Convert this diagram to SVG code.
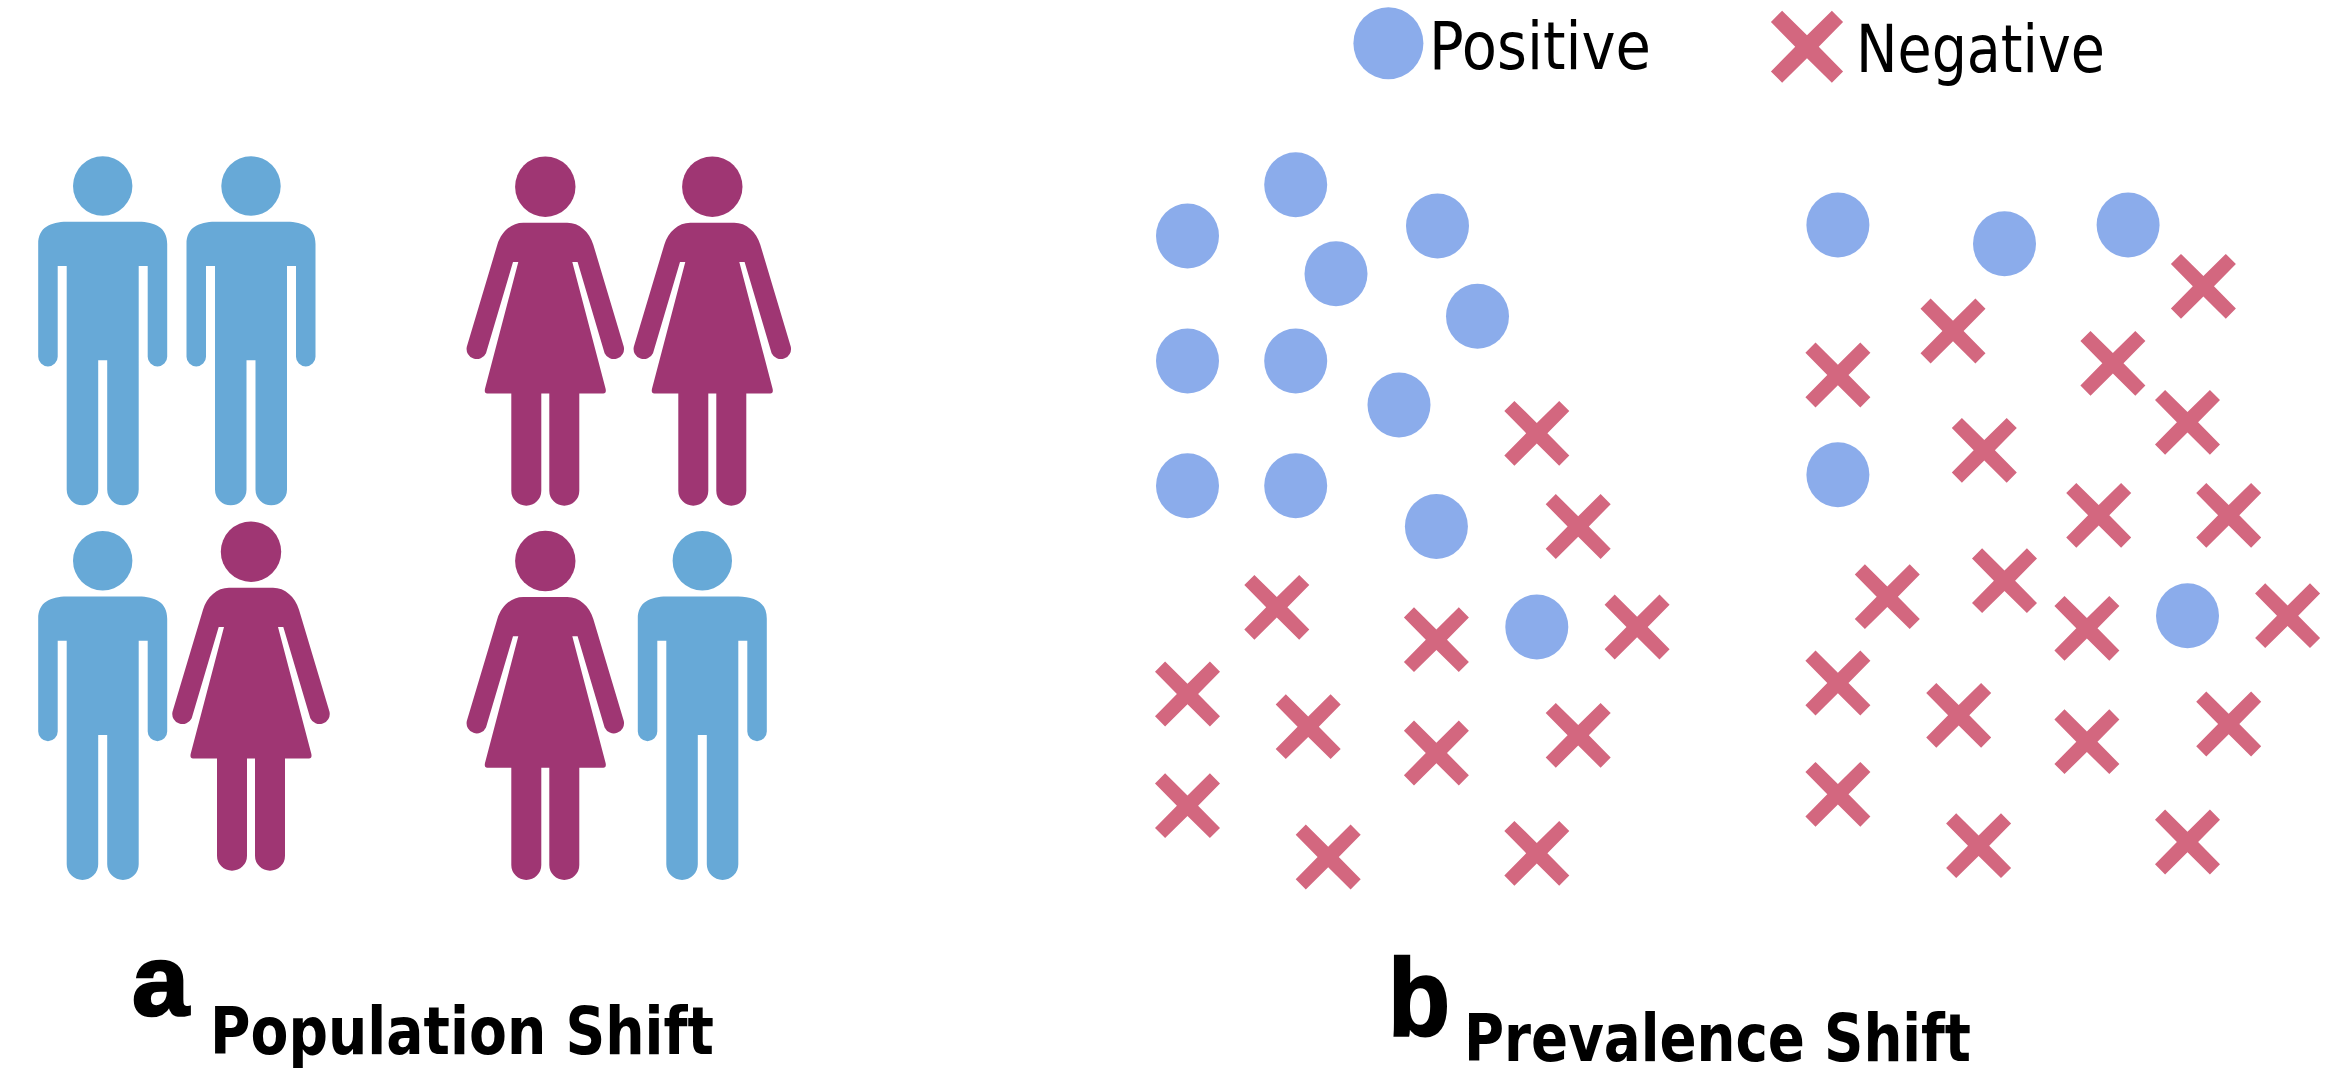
<svg xmlns="http://www.w3.org/2000/svg" xmlns:xlink="http://www.w3.org/1999/xlink" width="2337" height="1076" viewBox="0 0 2337 1076">
<style>
.man{fill:#67a9d7}
.woman{fill:#9f3673}
.pos{fill:#8baceb}
.neg{fill:#d3677f}
.legend{font-family:"DejaVu Sans","Liberation Sans",sans-serif;font-size:66px;fill:#000}
.big{font-family:"Liberation Sans",sans-serif;font-weight:700;fill:#000;stroke:#000;stroke-width:2.5px}
.title{font-family:"DejaVu Sans","Liberation Sans",sans-serif;font-weight:700;font-size:65px;fill:#000}
</style>
<defs>
<g id="man"><circle cx="0" cy="0" r="29.7"/><path d="M-36,35.7H36C52,36 64.5,41 64.5,58V170.7A9.75,9.75 0 0 1 45,170.7V80H36V303.5A15.75,15.75 0 0 1 4.5,303.5V174.3H-4.5V303.5A15.75,15.75 0 0 1 -36,303.5V80H-45V170.7A9.75,9.75 0 0 1 -64.5,170.7V58C-64.5,41 -52,36 -36,35.7Z"/></g>
<g id="woman"><circle cx="0" cy="0" r="30.2"/><path d="M-22,36H22C34,36 44,45 48,58L78.5,160A10.2,10.2 0 0 1 59.3,166.5L32.3,75.3H27L60.3,202Q61.3,206.7 58,206.7H34V304A15,15 0 0 1 4,304V206.7H-4V304A15,15 0 0 1 -34,304V206.7H-58Q-61.3,206.7 -60.3,202L-27,75.3H-32.3L-59.3,166.5A10.2,10.2 0 0 1 -78.5,160L-48,58C-44,45 -34,36 -22,36Z"/></g>
<ellipse id="o" cx="0" cy="0" rx="31.5" ry="32.5"/>
<polygon id="x" points="0,-10.3 22.4,-32.4 32.5,-22.3 10.6,0 32.5,22.3 22.4,32.4 0,10.3 -22.4,32.4 -32.5,22.3 -10.6,0 -32.5,-22.3 -22.4,-32.4"/>
</defs>
<rect width="2337" height="1076" fill="#fff"/>
<g id="population">
<use id="person-1" class="man" href="#man" x="102.7" y="186"/>
<use id="person-2" class="man" href="#man" x="251" y="186"/>
<use id="person-3" class="woman" href="#woman" x="545.3" y="186.7"/>
<use id="person-4" class="woman" href="#woman" x="712.3" y="186.7"/>
<use id="person-5" class="man" href="#man" x="102.7" y="560.7"/>
<use id="person-6" class="woman" href="#woman" x="251" y="551.7"/>
<use id="person-7" class="woman" href="#woman" x="545.3" y="561"/>
<use id="person-8" class="man" href="#man" x="702.3" y="560.7"/>
</g>
<g id="scatter-left-positive" class="pos">
<use href="#o" x="1187.5" y="236"/><use href="#o" x="1295.7" y="184.7"/><use href="#o" x="1437.5" y="226"/><use href="#o" x="1336" y="273.7"/><use href="#o" x="1477.5" y="316.3"/><use href="#o" x="1187.5" y="361"/><use href="#o" x="1295.7" y="361"/><use href="#o" x="1399" y="405"/><use href="#o" x="1187.5" y="485.7"/><use href="#o" x="1295.7" y="485.7"/><use href="#o" x="1436.4" y="526.5"/><use href="#o" x="1536.8" y="627"/>
</g>
<g id="scatter-left-negative" class="neg">
<use href="#x" x="1536.8" y="433.3"/><use href="#x" x="1578.2" y="526.5"/><use href="#x" x="1276.8" y="607.3"/><use href="#x" x="1436.4" y="639.7"/><use href="#x" x="1637.1" y="627"/><use href="#x" x="1187.5" y="694"/><use href="#x" x="1308.2" y="726.7"/><use href="#x" x="1436.4" y="753"/><use href="#x" x="1578.2" y="735.3"/><use href="#x" x="1187.5" y="805.7"/><use href="#x" x="1328.2" y="857"/><use href="#x" x="1536.8" y="853.3"/>
</g>
<g id="scatter-right-positive" class="pos">
<use href="#o" x="1837.9" y="225"/><use href="#o" x="2004.5" y="243.7"/><use href="#o" x="2128.1" y="225"/><use href="#o" x="1837.9" y="474.7"/><use href="#o" x="2187.5" y="615.7"/>
</g>
<g id="scatter-right-negative" class="neg">
<use href="#x" x="2203.4" y="286.3"/><use href="#x" x="1953" y="331"/><use href="#x" x="1837.9" y="375"/><use href="#x" x="2112.9" y="363.3"/><use href="#x" x="2187.5" y="422.3"/><use href="#x" x="1984.3" y="450.3"/><use href="#x" x="2098.7" y="515.3"/><use href="#x" x="2228.7" y="515.3"/><use href="#x" x="1887.3" y="596.7"/><use href="#x" x="2004.5" y="580.7"/><use href="#x" x="2086.9" y="628.3"/><use href="#x" x="2287.6" y="615.7"/><use href="#x" x="1837.9" y="683"/><use href="#x" x="1958.7" y="715.3"/><use href="#x" x="2086.9" y="741.7"/><use href="#x" x="2228.7" y="724"/><use href="#x" x="1837.9" y="794.3"/><use href="#x" x="1978.6" y="845.7"/><use href="#x" x="2187.5" y="842"/>
</g>
<g id="legend">
<ellipse class="pos" cx="1388.4" cy="43.3" rx="35" ry="36"/>
<text class="legend" x="1429" y="69" textLength="222" lengthAdjust="spacingAndGlyphs">Positive</text>
<polygon class="neg" transform="translate(1807 46.7) scale(1.11)" points="0,-10.3 22.4,-32.4 32.5,-22.3 10.6,0 32.5,22.3 22.4,32.4 0,10.3 -22.4,32.4 -32.5,22.3 -10.6,0 -32.5,-22.3 -22.4,-32.4"/>
<text class="legend" x="1856" y="71.7" textLength="249" lengthAdjust="spacingAndGlyphs">Negative</text>
</g>
<g id="captions">
<text class="big" x="132" y="1015" font-size="100" textLength="57" lengthAdjust="spacingAndGlyphs">a</text>
<text class="title" x="210" y="1054.3" textLength="504" lengthAdjust="spacingAndGlyphs">Population Shift</text>
<text class="big" x="1388" y="1035" font-size="110" textLength="62" lengthAdjust="spacingAndGlyphs">b</text>
<text class="title" x="1464" y="1061" textLength="507" lengthAdjust="spacingAndGlyphs">Prevalence Shift</text>
</g>
</svg>
